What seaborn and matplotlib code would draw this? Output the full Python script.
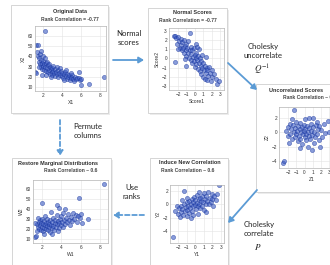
import numpy as np
import pandas as pd
import matplotlib
matplotlib.use("Agg")
import matplotlib.pyplot as plt
import seaborn as sns
from matplotlib.patches import Rectangle, FancyArrowPatch

# ---------------------------------- data ----------------------------------
# Original Data (X1, X2)
x1 = [1.3, 1.5, 2.2, 1.2, 1.3, 1.4, 1.5, 1.6, 1.6, 1.7, 1.7, 1.8, 1.8, 1.9, 1.9, 2.0, 2.0, 2.1, 2.1, 2.2,
      2.3, 2.3, 2.4, 2.5, 2.5, 2.6, 2.7, 2.7, 2.8, 2.9, 3.0, 3.0, 3.1, 3.2, 3.3, 3.3, 3.4, 3.5, 3.6, 3.6,
      3.7, 3.8, 3.9, 4.0, 4.0, 4.1, 4.2, 4.3, 4.4, 4.5, 4.5, 4.6, 4.7, 4.8, 4.9, 5.0, 5.1, 5.2, 5.3, 5.4,
      5.5, 5.6, 5.8, 5.8, 5.9, 6.0, 6.0, 6.8, 8.4, 1.8, 2.0, 2.2, 2.4, 1.6, 2.6, 3.1, 2.8, 3.5, 4.2, 3.8,
      5.0, 4.4, 1.9, 2.3]
x2 = [51, 51, 65, 25, 24, 44, 40, 38, 35, 42, 33, 37, 30, 34, 28, 36, 31, 27, 33, 30,
      26, 34, 29, 25, 32, 27, 23, 30, 28, 25, 22, 29, 26, 24, 28, 21, 25, 23, 27, 20,
      24, 22, 26, 21, 24, 19, 23, 25, 21, 18, 23, 20, 22, 17, 20, 19, 22, 18, 16, 20,
      18, 19, 25, 19, 17, 12, 18, 13, 20, 45, 40, 38, 35, 30, 33, 31, 20, 30, 17, 29,
      24, 27, 22, 22]

# Normal Scores (Score1, Score2)
score1 = [-2.5, -2.3, -2.2, -2.0, -2.4, -2.1, -1.9, -1.8, -1.7, -1.6, -1.5, -1.5, -1.4, -1.3, -1.3,
          -1.2, -1.1, -1.0, -1.0, -0.9, -0.8, -0.8, -0.7, -0.6, -0.6, -0.5, -0.5, -0.4, -0.3, -0.3,
          -0.2, -0.1, -0.1, 0.0, 0.0, 0.1, 0.1, 0.2, 0.2, 0.3, 0.4, 0.4, 0.5, 0.5, 0.6, 0.6, 0.7,
          0.8, 0.8, 0.9, 1.0, 1.0, 1.1, 1.2, 1.2, 1.3, 1.4, 1.5, 1.5, 1.6, 1.7, 1.8, 1.9, 2.0,
          2.1, 2.3, 2.5, 2.7, 2.9, -1.0, -2.0, 0.3, 1.3, -1.2, 0.9]
score2 = [2.5, 2.5, 2.2, 2.4, -0.4, 1.6, 1.9, 1.2, 2.1, 1.5, 0.9, 1.8, 1.2, 2.0, 0.6,
          1.4, 0.9, 1.6, 0.3, 1.1, 0.6, 1.9, 0.1, 2.8, 0.9, 1.3, -0.2, 0.5, 0.9, -0.5,
          0.2, 1.2, -0.3, 0.4, -0.9, 0.0, 1.6, -0.6, 0.6, -0.2, -1.1, 0.3, -0.5, 1.0, -1.4, 0.0, -0.8,
          -0.3, -1.7, -1.0, -0.5, -2.0, -1.3, -0.8, -2.2, -1.6, -1.0, -2.4, -1.3, -1.9, -0.9, -1.6, -2.5, -1.3,
          -2.0, -1.7, -2.2, -2.8, -2.5, -0.8, 1.0, 1.3, 0.2, -0.1, 0.4]

# Uncorrelated Scores (Z1, Z2)
z1 = [-2.6, -2.5, -1.3, -2.2, -2.0, -2.0, -1.8, -1.7, -1.6, -1.5, -1.4, -1.3, -1.2, -1.1, -1.0,
      -1.0, -0.9, -0.8, -0.8, -0.7, -0.6, -0.5, -0.5, -0.4, -0.3, -0.3, -0.2, -0.1, -0.1, 0.0,
      0.0, 0.1, 0.2, 0.2, 0.3, 0.4, 0.4, 0.5, 0.5, 0.6, 0.7, 0.8, 0.8, 0.9, 1.0, 1.0, 1.1, 1.2,
      1.3, 1.4, 1.5, 1.6, 1.7, 1.8, 1.9, 2.0, 2.1, 2.3, 2.5, 2.8, 3.0, -1.9, 0.9, -0.6, 1.5, -1.5]
z2 = [-4.3, -4.0, 3.1, 0.2, 0.8, -0.5, 1.2, -0.2, 0.5, -1.0, 1.0, 0.0, -0.6, 0.6, 1.5,
      -0.3, 0.2, -1.2, 0.9, -0.5, 0.4, 1.3, -0.9, 0.0, 0.7, -1.6, -0.3, 1.0, 0.2, -0.7,
      1.8, 0.5, -0.2, -1.1, 0.9, 0.1, -2.0, 2.0, -0.5, 0.6, -1.0, 0.2, 1.2, -0.4, 2.0, 0.7, -1.5, 0.1,
      -0.7, 1.0, -0.2, 0.5, -1.1, 0.9, -2.1, 0.3, -0.6, 1.2, -0.1, 1.6, 0.0, -1.5, -2.5, -2.2, 1.5, 1.8]

# Restore Marginal Distributions (W1, W2)
w1 = [8.4, 5.8, 2.0, 1.3, 1.4, 6.8, 6.1, 3.5, 3.8, 4.4, 1.5, 1.5, 1.6, 1.7, 1.7, 1.8, 1.8, 1.9, 1.9, 2.0,
      2.0, 2.1, 2.1, 2.2, 2.2, 2.3, 2.3, 2.4, 2.4, 2.5, 2.5, 2.6, 2.6, 2.7, 2.7, 2.8, 2.8, 2.9, 3.0, 3.0,
      3.1, 3.1, 3.2, 3.3, 3.3, 3.4, 3.5, 3.5, 3.6, 3.7, 3.8, 3.9, 4.0, 4.0, 4.1, 4.2, 4.3, 4.4, 4.5, 4.6,
      4.7, 4.8, 4.9, 5.0, 5.1, 5.2, 5.3, 5.5, 5.6, 5.7, 5.9, 6.0, 1.6, 2.9, 4.2, 3.0, 2.2, 3.6, 1.3]
w2 = [65, 51, 46, 12, 13, 30, 26, 44, 41, 40, 18, 25, 22, 27, 20, 24, 29, 19, 26, 22,
      30, 18, 25, 21, 28, 24, 33, 20, 26, 23, 30, 19, 27, 22, 25, 29, 17, 24, 21, 27,
      31, 23, 19, 26, 29, 22, 25, 34, 28, 21, 26, 30, 24, 33, 27, 22, 29, 25, 31, 27,
      35, 29, 24, 32, 28, 36, 30, 34, 27, 33, 31, 35, 31, 37, 36, 15, 15, 18, 26]

# Induce New Correlation (Y1, Y2)
y1 = [-2.6, -1.3, 2.8, -2.3, -2.1, -2.0, -1.9, -1.8, -1.7, -1.6, -1.5, -1.4, -1.3, -1.2, -1.1,
      -1.0, -1.0, -0.9, -0.8, -0.7, -0.7, -0.6, -0.5, -0.4, -0.4, -0.3, -0.2, -0.2, -0.1, 0.0,
      0.0, 0.1, 0.2, 0.2, 0.3, 0.4, 0.5, 0.5, 0.6, 0.7, 0.8, 0.8, 0.9, 1.0, 1.0, 1.1, 1.2, 1.3,
      1.4, 1.5, 1.6, 1.7, 1.8, 1.9, 2.0, 2.1, 2.2, 2.4, 2.5, -0.5, 0.3, -1.5, 1.2, -0.9, 0.6]
y2 = [-4.9, 2.0, 2.9, -1.0, -0.3, -1.5, -0.6, -1.9, -0.2, -1.1, -0.7, -1.6, 0.0, -1.0, -0.4,
      -1.8, 0.3, -0.8, -0.2, -1.3, 0.5, -0.5, 0.1, -1.0, 0.8, -0.3, 0.4, -1.6, 1.1, -0.1,
      0.6, -0.7, 0.2, 1.4, -0.3, 0.8, 0.0, 1.8, -0.6, 0.5, 1.2, -0.2, 0.3, 1.7, -0.9, 0.8, 0.1, 1.3,
      0.5, 1.9, 0.0, 1.0, 0.4, 1.5, 0.8, -0.3, 1.2, 0.6, 1.6, -2.1, -1.4, 0.6, -1.2, 1.0, 0.9]

# ---------------------------------- style ----------------------------------
sns.set_style("whitegrid", {"grid.color": "#e4e4e4", "axes.edgecolor": "#b4b4b4"})
plt.rcParams["font.family"] = ["Liberation Sans", "DejaVu Sans"]
plt.rcParams["mathtext.fontset"] = "stix"

W, H = 330, 265
fig = plt.figure(figsize=(3.3, 2.65), dpi=100)

# overlay in pixel coordinates for boxes, arrows and captions
ov = fig.add_axes([0, 0, 1, 1], zorder=0)
ov.set_xlim(0, W)
ov.set_ylim(H, 0)
ov.axis("off")

ARROW = "#5b9bd5"
PT_FACE = "#3d5cc4"
PT_EDGE = "#1a379e"


def box(x0, y0, x1, y1):
    ov.add_patch(Rectangle((x0 + 1.5, y0 + 1.5), x1 - x0, y1 - y0, facecolor="#ececec", edgecolor="none"))
    ov.add_patch(Rectangle((x0, y0), x1 - x0, y1 - y0, facecolor="white", edgecolor="#cfcfcf", lw=0.6))


def panel(px, df, xcol, ycol, xlim, ylim, xticks, yticks):
    l, t, r, b = px
    ax = fig.add_axes([l / W, 1 - b / H, (r - l) / W, (b - t) / H], zorder=1)
    sns.scatterplot(data=df, x=xcol, y=ycol, ax=ax, s=9, color=PT_FACE, alpha=0.6,
                    edgecolor=PT_EDGE, linewidth=0.5)
    ax.set_xlim(*xlim)
    ax.set_ylim(*ylim)
    ax.set_xticks(xticks)
    ax.set_yticks(yticks)
    ax.tick_params(labelsize=3.4, length=0, pad=1.5, colors="#333333")
    ax.set_xlabel(xcol, fontsize=3.6, labelpad=1.5, color="#333333")
    ax.set_ylabel(ycol, fontsize=3.6, labelpad=1.5, color="#333333")
    for sp in ax.spines.values():
        sp.set_linewidth(0.5)
    ax.grid(True, lw=0.4)
    return ax


def title(x, y, main, sub, sx=None):
    ov.text(x, y, main, fontsize=4.0, fontweight="bold", color="#333333", ha="center", va="center")
    ov.text(x if sx is None else sx, y + 7.5, sub, fontsize=3.6, fontweight="bold", color="#444444",
            ha="center", va="center")


# panel frames
box(11, 5, 108, 113)
box(148, 8, 227, 113)
box(256, 84, 350, 192)
box(12, 158, 111, 270)
box(150, 158, 228, 270)

# scatter panels
df1 = pd.DataFrame({"X1": x1, "X2": x2})
panel((35, 26, 106, 91), df1, "X1", "X2", (1.16, 8.63), (6, 70), [2, 4, 6, 8], [10, 20, 30, 40, 50, 60])
title(70, 12, "Original Data", "Rank Correlation = -0.77")

df2 = pd.DataFrame({"Score1": score1, "Score2": score2})
panel((169, 28, 224, 90), df2, "Score1", "Score2", (-3.07, 3.48), (-3.44, 3.33),
      [-2, -1, 0, 1, 2, 3], [-3, -2, -1, 0, 1, 2, 3])
title(192, 12.5, "Normal Scores", "Rank Correlation = -0.77", sx=188)

df3 = pd.DataFrame({"Z1": z1, "Z2": z2})
panel((279, 107, 345, 168), df3, "Z1", "Z2", (-3.09, 4.9), (-4.98, 3.53),
      [-2, -1, 0, 1, 2, 3], [-4, -2, 0, 2])
title(296, 90, "Uncorrelated Scores", "Rank Correlation ~ 0.0", sx=310)

df4 = pd.DataFrame({"W1": w1, "W2": w2})
panel((33, 180, 108, 243), df4, "W1", "W2", (1.05, 8.84), (6, 69), [2, 4, 6, 8], [10, 20, 30, 40, 50, 60])
title(58, 163, "Restore Marginal Distributions", "Rank Correlation ~ 0.6", sx=71)

df5 = pd.DataFrame({"Y1": y1, "Y2": y2})
panel((170, 185, 224, 243), df5, "Y1", "Y2", (-2.93, 3.35), (-5.8, 2.9),
      [-2, -1, 0, 1, 2, 3], [-4, -2, 0, 2])
title(190, 163, "Induce New Correlation", "Rank Correlation ~ 0.6", sx=188)

# arrows
def arrow(p0, p1, dashed=False):
    ov.add_patch(FancyArrowPatch(p0, p1, arrowstyle="-|>,head_length=3,head_width=1.8",
                                 color=ARROW, lw=1.3, linestyle=(0, (2.5, 1.5)) if dashed else "-",
                                 shrinkA=0, shrinkB=0, mutation_scale=1))

arrow((113, 60), (144, 60))
arrow((228, 63), (257, 90))
arrow((257, 190), (228, 223))
arrow((144, 215), (113, 215), dashed=True)
arrow((60, 120), (60, 156), dashed=True)

# captions
cap = dict(fontsize=5.6, color="#222222", ha="center", va="center", family=["Lato", "DejaVu Sans"],
           linespacing=1.35)
ov.text(129, 38, "Normal\nscores", **cap)
ov.text(88, 131, "Permute\ncolumns", **cap)
ov.text(132, 192, "Use\nranks", **cap)
ov.text(263, 51, "Cholesky\nuncorrelate", **cap)
ov.text(262, 70, "$Q^{-1}$", fontsize=6.5, color="#222222", ha="center", va="center")
ov.text(259, 229, "Cholesky\ncorrelate", **cap)
ov.text(258, 247, "$P$", fontsize=6.5, color="#222222", ha="center", va="center")

fig.savefig("out.png", dpi=100)
